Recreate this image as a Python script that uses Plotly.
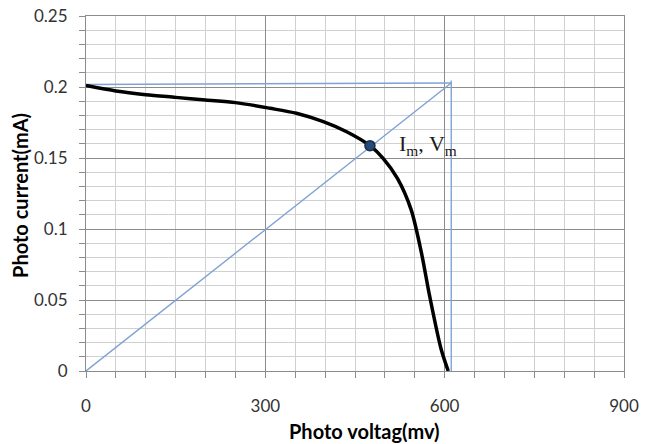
import plotly.graph_objects as go

# I-V curve data (voltage in mV, current in mA)
voltage = [0, 50, 100, 150, 200, 250, 308, 352, 397, 436, 475, 497, 521, 544, 561, 575, 594, 606]
current = [0.201, 0.1972, 0.1946, 0.1927, 0.1908, 0.189, 0.185, 0.1815, 0.1756, 0.1685, 0.1587,
           0.1498, 0.1357, 0.1135, 0.0835, 0.0525, 0.0155, 0.0]

# maximum power point
vm = [475]
im = [0.1587]

# guide lines: Isc horizontal, Voc vertical, diagonal
isc_v = [0, 611]
isc_i = [0.2018, 0.2028]
voc_v = [611, 611]
voc_i = [0.2045, 0.0]
diag_v = [0, 611]
diag_i = [0.0, 0.2028]

x_ticks = [0, 300, 600, 900]
y_ticks = [0, 0.05, 0.1, 0.15, 0.2, 0.25]
y_labels = ["0", "0.05", "0.1", "0.15", "0.2", "0.25"]

blue = "#7fa2d4"

fig = go.Figure()
fig.add_trace(go.Scatter(x=isc_v, y=isc_i, mode="lines", line=dict(color=blue, width=1.4), hoverinfo="skip"))
fig.add_trace(go.Scatter(x=voc_v, y=voc_i, mode="lines", line=dict(color=blue, width=1.4), hoverinfo="skip"))
fig.add_trace(go.Scatter(x=diag_v, y=diag_i, mode="lines", line=dict(color=blue, width=1.4), hoverinfo="skip"))
fig.add_trace(go.Scatter(x=voltage, y=current, mode="lines",
                         line=dict(color="black", width=3.5, shape="spline", smoothing=0.8)))
fig.add_trace(go.Scatter(x=vm, y=im, mode="markers",
                         marker=dict(size=10, color="#24497a", line=dict(color="#1a2c48", width=1.5))))

fig.add_annotation(x=520, y=0.1595, xref="x", yref="y", xanchor="left", yanchor="middle",
                   text="I<sub>m</sub>, V<sub>m</sub>", showarrow=False,
                   font=dict(family="Liberation Serif", size=22, color="#1a1a1a"))

fig.add_annotation(x=0.517, y=-0.168, xref="paper", yref="paper", xanchor="center", yanchor="middle",
                   text="<b>Photo voltag(mv)</b>", showarrow=False,
                   font=dict(family="Lato", size=20, color="black"))
fig.add_annotation(x=-0.1227, y=0.496, xref="paper", yref="paper", xanchor="center", yanchor="middle",
                   text="<b>Photo current(mA)</b>", showarrow=False, textangle=-90,
                   font=dict(family="Lato", size=20, color="black"))

fig.update_layout(
    width=645, height=444,
    margin=dict(l=86, r=21, t=16, b=73),
    paper_bgcolor="white", plot_bgcolor="white",
    showlegend=False,
    font=dict(family="Lato", size=17, color="#333333"),
)
fig.update_xaxes(
    range=[0, 900], tickvals=x_ticks, ticks="outside", ticklen=6, tickcolor="#8c8c8c",
    showgrid=True, gridcolor="#8c8c8c", gridwidth=1,
    showline=True, linecolor="#8c8c8c", linewidth=1, mirror=True,
    zeroline=False, ticklabelstandoff=14, automargin=False,
    minor=dict(dtick=50, showgrid=True, gridcolor="#d0d0d0", gridwidth=1,
               ticks="outside", ticklen=6, tickcolor="#8c8c8c"),
)
fig.update_yaxes(
    range=[0, 0.25], tickvals=y_ticks, ticktext=y_labels, ticks="outside", ticklen=6, tickcolor="#8c8c8c",
    showgrid=True, gridcolor="#8c8c8c", gridwidth=1,
    showline=True, linecolor="#8c8c8c", linewidth=1, mirror=True,
    zeroline=False, ticklabelstandoff=8, automargin=False,
    minor=dict(dtick=0.01, showgrid=True, gridcolor="#d0d0d0", gridwidth=1,
               ticks="outside", ticklen=6, tickcolor="#8c8c8c"),
)

fig.write_html("out.html")
